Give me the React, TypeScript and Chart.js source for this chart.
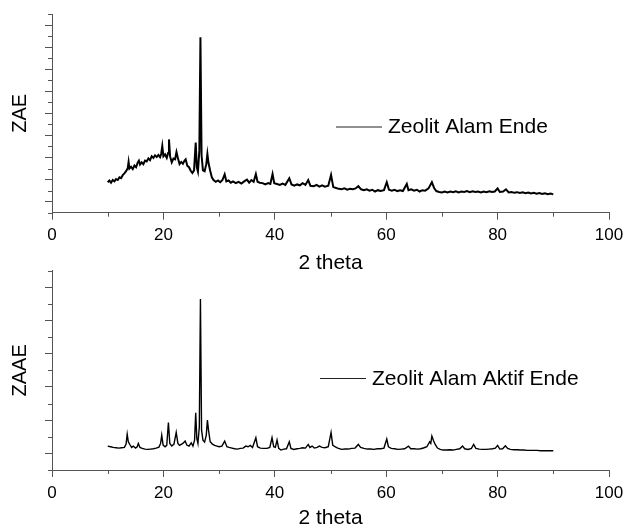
import React, { useEffect, useRef } from 'react';
import { Chart, registerables } from 'chart.js';

Chart.register(...registerables);

// ---------- data (intensities in units of one major y tick) ----------
const topAngles = [
  10.0, 10.3, 10.6, 10.9, 11.2, 11.5, 11.8, 12.1, 12.4, 12.7, 13.0, 13.3, 13.6, 13.75, 13.9,
  14.2, 14.5, 14.8, 15.1, 15.4, 15.6, 15.8, 16.1, 16.4, 16.7, 17.0, 17.3, 17.6, 17.9, 18.2,
  18.5, 18.8, 19.1, 19.4, 19.6, 19.8, 20.0, 20.3, 20.6, 20.85, 21.0, 21.2, 21.5, 21.8, 22.1,
  22.35, 22.6, 22.9, 23.2, 23.5, 23.8, 24.0, 24.3, 24.6, 24.9, 25.2, 25.5, 25.8, 26.0, 26.2,
  26.45, 26.65, 26.85, 27.1, 27.4, 27.7, 27.9, 28.1, 28.4, 28.7, 29.0, 29.4, 29.8, 30.2, 30.6,
  31.0, 31.3, 31.7, 32.1, 32.5, 33.0, 33.5, 34.0, 34.5, 35.0, 35.4, 35.8, 36.2, 36.6, 36.9,
  37.3, 37.8, 38.3, 38.8, 39.2, 39.6, 39.9, 40.4, 40.9, 41.4, 41.9, 42.6, 43.0, 43.5, 44.0,
  44.5, 45.0, 45.5, 46.0, 46.4, 47.0, 47.5, 48.0, 48.5, 49.0, 49.6, 50.1, 50.5, 51.0, 51.5,
  52.0, 52.5, 53.0, 53.5, 54.0, 54.5, 55.0, 55.5, 56.0, 56.5, 57.0, 57.5, 58.0, 58.5, 59.0,
  59.6, 60.1, 60.5, 61.0, 61.5, 62.0, 62.5, 63.0, 63.7, 64.0, 64.5, 65.0, 65.5, 66.0, 66.5,
  67.0, 67.6, 68.2, 68.6, 69.0, 69.5, 70.0, 70.5, 71.0, 71.5, 72.0, 72.5, 73.0, 73.5, 74.0,
  74.5, 75.0, 75.5, 76.0, 76.5, 77.0, 77.5, 78.0, 78.5, 79.0, 79.5, 80.0, 80.4, 81.0, 81.5,
  82.0, 82.5, 83.0, 83.5, 84.0, 84.5, 85.0, 85.5, 86.0, 86.5, 87.0, 87.5, 88.0, 88.5, 89.0,
  89.5, 90.0,
];
const topCounts = [
  0.88, 0.96, 0.86, 0.98, 0.92, 1.02, 0.98, 1.10, 1.06, 1.20, 1.28, 1.38, 1.52, 1.80, 1.50,
  1.58, 1.48, 1.64, 1.56, 1.78, 1.86, 1.68, 1.78, 1.70, 1.86, 1.82, 1.96, 1.88, 2.06, 1.98,
  2.10, 2.02, 2.12, 2.02, 2.16, 2.52, 2.05, 2.14, 1.98, 2.20, 2.82, 2.05, 1.78, 1.95, 1.92,
  2.25, 1.98, 1.70, 1.80, 1.72, 1.86, 1.92, 1.62, 1.56, 1.40, 1.30, 1.42, 2.68, 1.55, 1.36,
  2.30, 7.45, 2.10, 1.42, 1.38, 1.70, 2.16, 1.75, 1.40, 1.10, 0.98, 0.90, 0.96, 0.88, 0.98,
  1.24, 0.92, 0.96, 0.86, 0.92, 0.84, 0.90, 0.82, 0.92, 1.00, 0.86, 0.98, 0.90, 1.25, 0.90,
  0.86, 0.84, 0.78, 0.84, 0.80, 1.25, 0.84, 0.80, 0.76, 0.82, 0.76, 1.06, 0.78, 0.72, 0.78,
  0.74, 0.84, 0.76, 0.98, 0.72, 0.70, 0.76, 0.68, 0.74, 0.68, 0.72, 1.21, 0.66, 0.62, 0.58,
  0.56, 0.60, 0.54, 0.58, 0.56, 0.60, 0.70, 0.56, 0.52, 0.56, 0.50, 0.54, 0.46, 0.52, 0.48,
  0.52, 0.88, 0.54, 0.50, 0.54, 0.48, 0.52, 0.48, 0.80, 0.52, 0.56, 0.50, 0.54, 0.46, 0.52,
  0.50, 0.60, 0.88, 0.62, 0.48, 0.44, 0.42, 0.46, 0.42, 0.46, 0.43, 0.47, 0.42, 0.46, 0.44,
  0.48, 0.43, 0.47, 0.44, 0.46, 0.42, 0.46, 0.43, 0.47, 0.44, 0.46, 0.60, 0.44, 0.46, 0.56,
  0.42, 0.44, 0.40, 0.43, 0.39, 0.42, 0.38, 0.41, 0.37, 0.40, 0.36, 0.39, 0.35, 0.38, 0.34,
  0.37, 0.33,
];

const bottomAngles = [
  10.0, 10.5, 11.0, 11.5, 12.0, 12.5, 13.0, 13.3, 13.5, 13.7, 14.0, 14.3, 14.6, 15.0, 15.3,
  15.5, 15.8, 16.2, 16.7, 17.2, 17.7, 18.2, 18.7, 19.2, 19.5, 19.7, 19.95, 20.3, 20.6, 20.9,
  21.15, 21.5, 21.9, 22.3, 22.6, 22.9, 23.2, 23.5, 23.9, 24.2, 24.6, 25.0, 25.3, 25.6, 25.8,
  26.0, 26.2, 26.45, 26.65, 26.85, 27.1, 27.4, 27.7, 27.9, 28.1, 28.4, 28.8, 29.2, 29.6, 30.0,
  30.5, 31.0, 31.4, 31.8, 32.3, 32.8, 33.3, 33.8, 34.3, 34.8, 35.2, 35.6, 36.0, 36.6, 36.9,
  37.4, 38.0, 38.6, 39.1, 39.5, 39.8, 40.1, 40.4, 40.7, 41.1, 41.6, 42.1, 42.6, 42.9, 43.4,
  44.0, 44.5, 45.0, 45.5, 46.0, 46.3, 46.7, 47.1, 47.6, 48.0, 48.5, 49.0, 49.6, 50.1, 50.4,
  50.8, 51.3, 52.0, 52.6, 53.2, 53.8, 54.4, 55.0, 55.4, 56.0, 56.6, 57.2, 57.8, 58.4, 59.0,
  59.6, 60.1, 60.4, 60.9, 61.5, 62.1, 62.7, 63.3, 64.0, 64.4, 65.0, 65.6, 66.2, 66.8, 67.3,
  67.8, 68.0, 68.2, 68.5, 68.8, 69.2, 69.7, 70.2, 70.8, 71.4, 72.0, 72.6, 73.2, 73.7, 74.1,
  74.7, 75.3, 75.7, 76.1, 76.7, 77.3, 77.9, 78.5, 79.1, 79.6, 80.0, 80.4, 80.9, 81.4, 81.8,
  82.3, 82.9, 83.5, 84.1, 84.7, 85.3, 85.9, 86.5, 87.1, 87.7, 88.3, 88.9, 89.5, 90.0,
];
const bottomCounts = [
  0.22, 0.20, 0.18, 0.17, 0.16, 0.17, 0.18, 0.28, 0.58, 0.35, 0.26, 0.18, 0.22, 0.16, 0.20,
  0.30, 0.18, 0.15, 0.13, 0.12, 0.13, 0.14, 0.16, 0.19, 0.30, 0.55, 0.25, 0.20, 0.24, 0.93,
  0.30, 0.22, 0.28, 0.63, 0.30, 0.24, 0.27, 0.30, 0.37, 0.25, 0.22, 0.32, 0.22, 0.40, 1.22,
  0.45, 0.30, 0.80, 4.65, 0.70, 0.40, 0.34, 0.55, 1.00, 0.70, 0.35, 0.28, 0.24, 0.22, 0.20,
  0.22, 0.37, 0.20, 0.18, 0.16, 0.14, 0.13, 0.15, 0.16, 0.22, 0.20, 0.24, 0.18, 0.47, 0.20,
  0.16, 0.15, 0.15, 0.18, 0.47, 0.20, 0.18, 0.40, 0.15, 0.10, 0.13, 0.14, 0.35, 0.15, 0.12,
  0.14, 0.15, 0.17, 0.16, 0.27, 0.18, 0.22, 0.16, 0.18, 0.22, 0.18, 0.17, 0.20, 0.63, 0.25,
  0.20, 0.16, 0.12, 0.13, 0.13, 0.15, 0.16, 0.27, 0.18, 0.15, 0.13, 0.13, 0.12, 0.14, 0.14,
  0.16, 0.43, 0.20, 0.15, 0.14, 0.12, 0.13, 0.14, 0.22, 0.14, 0.14, 0.13, 0.14, 0.17, 0.20,
  0.35, 0.30, 0.52, 0.38, 0.27, 0.16, 0.12, 0.10, 0.10, 0.11, 0.10, 0.12, 0.14, 0.22, 0.14,
  0.12, 0.15, 0.27, 0.15, 0.13, 0.12, 0.12, 0.13, 0.14, 0.16, 0.24, 0.13, 0.14, 0.23, 0.15,
  0.12, 0.11, 0.11, 0.10, 0.10, 0.09, 0.09, 0.09, 0.09, 0.08, 0.08, 0.08, 0.08, 0.08,
];

const xTickValues = [0, 20, 40, 60, 80, 100];
const xMinorTicks = [10, 30, 50, 70, 90];
const topYTicks = [0, 1, 2, 3, 4, 5, 6, 7, 8];
const topYMinor = [-0.5, 0.5, 1.5, 2.5, 3.5, 4.5, 5.5, 6.5, 7.5, 8.5];
const bottomYTicks = [0, 1, 2, 3, 4, 5];
const bottomYMinor = [-0.5, 0.5, 1.5, 2.5, 3.5, 4.5, 5.5];

const topSeriesLabel = 'Zeolit Alam Ende';
const bottomSeriesLabel = 'Zeolit Alam Aktif Ende';
const topYTitle = 'ZAE';
const bottomYTitle = 'ZAAE';
const xTitle = '2 theta';

const FONT = "'Liberation Sans', Arial, Helvetica, sans-serif";
const AXIS_COLOR = '#555';

// ---------- plugins ----------
const minorTickPlugin = {
  id: 'minorTicks',
  afterDraw(chart: any, _args: any, opts: any) {
    const { ctx, chartArea, scales } = chart;
    ctx.save();
    ctx.strokeStyle = AXIS_COLOR;
    ctx.lineWidth = 1;
    ctx.beginPath();
    (opts.x || []).forEach((v: number) => {
      const px = Math.round(scales.x.getPixelForValue(v)) + 0.5;
      ctx.moveTo(px, chartArea.bottom);
      ctx.lineTo(px, chartArea.bottom + 4);
    });
    (opts.y || []).forEach((v: number) => {
      const py = Math.round(scales.y.getPixelForValue(v)) + 0.5;
      ctx.moveTo(chartArea.left - 4, py);
      ctx.lineTo(chartArea.left, py);
    });
    ctx.stroke();
    ctx.restore();
  },
};

const insetLegendPlugin = {
  id: 'insetLegend',
  afterDraw(chart: any, _args: any, opts: any) {
    const { ctx } = chart;
    const ds = chart.data.datasets[0];
    ctx.save();
    ctx.strokeStyle = '#222';
    ctx.lineWidth = 1;
    ctx.beginPath();
    ctx.moveTo(opts.x, opts.y + 0.5);
    ctx.lineTo(opts.x + opts.lineLength, opts.y + 0.5);
    ctx.stroke();
    ctx.fillStyle = '#000';
    ctx.font = `${opts.fontSize}px ${FONT}`;
    ctx.textBaseline = 'middle';
    ctx.textAlign = 'left';
    ctx.fillText(ds.label, opts.x + opts.lineLength + opts.gap, opts.y + 1);
    ctx.restore();
  },
};

function makeConfig(p: {
  angles: number[];
  counts: number[];
  label: string;
  yTitle: string;
  yMax: number;
  yTicks: number[];
  yMinor: number[];
  padTop: number;
  xHeight: number;
  tickPad: number;
  lineWidth: number;
  legendX: number;
  legendY: number;
}) {
  return {
    type: 'line',
    data: {
      datasets: [
        {
          label: p.label,
          data: p.angles.map((a, i) => ({ x: a, y: p.counts[i] })),
          borderColor: '#000',
          borderWidth: p.lineWidth,
          pointRadius: 0,
          tension: 0,
          fill: false,
        },
      ],
    },
    options: {
      animation: false,
      responsive: false,
      events: [],
      layout: { padding: { top: p.padTop, right: 15, left: 0, bottom: 0 } },
      plugins: {
        legend: { display: false },
        tooltip: { enabled: false },
        minorTicks: { x: xMinorTicks, y: p.yMinor },
        insetLegend: { x: p.legendX, y: p.legendY, lineLength: 46, gap: 6, fontSize: 21 },
      },
      scales: {
        x: {
          type: 'linear',
          min: 0,
          max: 100,
          afterBuildTicks: (s: any) => {
            s.ticks = xTickValues.map((v) => ({ value: v }));
          },
          afterFit: (s: any) => {
            s.height = p.xHeight;
            s.paddingLeft = 0;
            s.paddingRight = 0;
          },
          grid: { drawOnChartArea: false, drawTicks: true, tickLength: 7, color: AXIS_COLOR },
          border: { display: true, color: AXIS_COLOR, width: 1 },
          ticks: {
            padding: p.tickPad,
            color: '#000',
            autoSkip: false,
            maxRotation: 0,
            font: { family: FONT, size: 17 },
          },
          title: {
            display: true,
            text: xTitle,
            color: '#000',
            font: { family: FONT, size: 21 },
            padding: { top: 0, bottom: 0 },
          },
        },
        y: {
          type: 'linear',
          min: -0.5,
          max: p.yMax,
          afterBuildTicks: (s: any) => {
            s.ticks = p.yTicks.map((v) => ({ value: v }));
          },
          afterFit: (s: any) => {
            s.width = 52;
            s.paddingTop = 0;
            s.paddingBottom = 0;
          },
          grid: { drawOnChartArea: false, drawTicks: true, tickLength: 7, color: AXIS_COLOR },
          border: { display: true, color: AXIS_COLOR, width: 1 },
          ticks: { display: false },
          title: {
            display: true,
            text: p.yTitle,
            color: '#000',
            font: { family: FONT, size: 20 },
            padding: { top: 8.5, bottom: 0 },
          },
        },
      },
    },
    plugins: [minorTickPlugin, insetLegendPlugin],
  };
}

function XrdPanel(props: { top: number; height: number; config: any }) {
  const ref = useRef<HTMLCanvasElement | null>(null);
  useEffect(() => {
    if (!ref.current) return;
    const chart = new Chart(ref.current, props.config);
    return () => chart.destroy();
  }, []);
  return (
    <canvas
      ref={ref}
      width={624}
      height={props.height}
      style={{ position: 'absolute', left: 0, top: props.top, width: 624, height: props.height }}
    />
  );
}

export default function App() {
  const topConfig = makeConfig({
    angles: topAngles,
    counts: topCounts,
    label: topSeriesLabel,
    yTitle: topYTitle,
    yMax: 8.5,
    yTicks: topYTicks,
    yMinor: topYMinor,
    padTop: 14,
    xHeight: 63.3,
    tickPad: 5,
    lineWidth: 2,
    legendX: 336,
    legendY: 126.5,
  });
  const bottomConfig = makeConfig({
    angles: bottomAngles,
    counts: bottomCounts,
    label: bottomSeriesLabel,
    yTitle: bottomYTitle,
    yMax: 5.5,
    yTicks: bottomYTicks,
    yMinor: bottomYMinor,
    padTop: 10.7,
    xHeight: 61,
    tickPad: 6,
    lineWidth: 1.4,
    legendX: 320,
    legendY: 118,
  });
  return (
    <div
      style={{
        position: 'fixed',
        left: 0,
        top: 0,
        width: 624,
        height: 531,
        background: '#fff',
        overflow: 'hidden',
      }}
    >
      <XrdPanel top={0} height={276} config={topConfig} />
      <XrdPanel top={260} height={271} config={bottomConfig} />
    </div>
  );
}
